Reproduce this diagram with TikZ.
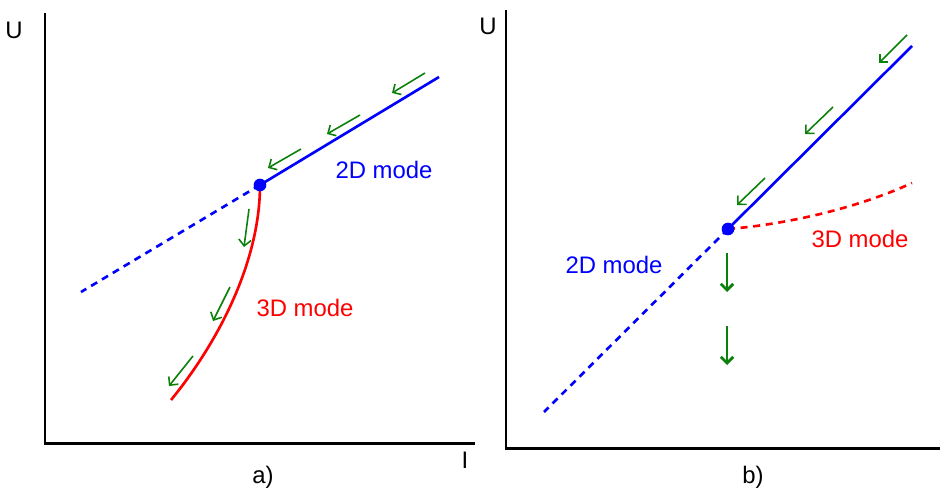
\documentclass[tikz,border=0pt]{standalone}
\usepackage{fontspec}
\setmainfont{Liberation Sans}
\usetikzlibrary{arrows.meta}
\definecolor{flowgreen}{HTML}{0B800B}

\begin{document}
\begin{tikzpicture}[
  x=0.02cm, y=-0.02cm,
  axis/.style={line width=1.7pt},
  mode2d/.style={draw=blue, line width=1.5pt},
  mode3d/.style={draw=red, line width=1.5pt},
  hidden/.style={dash pattern=on 4pt off 3.2pt},
  flow/.style={draw=flowgreen, line width=0.9pt, -{Straight Barb[length=3.5pt,width=7pt]}},
  bigflow/.style={flow, line width=1.6pt},
  lbl/.style={font=\fontsize{13.6}{16}\selectfont, inner sep=0pt},
  spot/.style={circle, fill=blue, inner sep=0pt, minimum size=7.2pt}
]
  \useasboundingbox (0,0) rectangle (940,487);

  % panel a
  \coordinate (ua) at (45,13);
  \coordinate (oa) at (45,443);
  \coordinate (ia) at (475,443);
  \draw[axis] (ua) -- (oa) -- (ia);
  \node[lbl] (lua) at (14,30) {U};
  \node[lbl] (lia) at (465,460) {I};
  \node[lbl] (capa) at (263,477) {a)};

  \coordinate (ka) at (260,185);
  \coordinate (hia) at (439,77);
  \coordinate (loa) at (81,292);
  \coordinate (enda) at (171,400);
  \draw[mode2d] (ka) -- (hia);
  \draw[mode2d, hidden] (ka) -- (loa);
  \draw[mode3d] (ka) .. controls (260,260) and (220,340) .. (enda);
  \node[spot] (dota) at (ka) {};
  \node[lbl, text=blue] (twoa) at (384,170) {2D mode};
  \node[lbl, text=red] (threea) at (305,308) {3D mode};

  \coordinate (fa1) at (425,73);  \coordinate (ta1) at (392,93);
  \coordinate (fa2) at (360,115); \coordinate (ta2) at (327,134);
  \coordinate (fa3) at (301,149); \coordinate (ta3) at (268,168);
  \coordinate (fa4) at (249,209); \coordinate (ta4) at (244,247);
  \coordinate (fa5) at (230,287); \coordinate (ta5) at (213,321);
  \coordinate (fa6) at (193,356); \coordinate (ta6) at (169,386);
  \foreach \i in {1,...,6}
    \draw[flow] (fa\i) -- (ta\i);

  % panel b
  \coordinate (ub) at (506,10);
  \coordinate (ob) at (506,448);
  \coordinate (ib) at (940,448);
  \draw[axis] (ub) -- (ob) -- (ib);
  \node[lbl] (lub) at (488,26) {U};
  \node[lbl] (capb) at (753,477) {b)};

  \coordinate (kb) at (728,229);
  \coordinate (hib) at (912,46);
  \coordinate (lob) at (544,412);
  \coordinate (endb) at (912,183);
  \draw[mode2d] (kb) -- (hib);
  \draw[mode2d, hidden] (kb) -- (lob);
  \draw[mode3d, hidden] (kb) .. controls (790,224) and (860,207) .. (endb);
  \node[spot] (dotb) at (kb) {};
  \node[lbl, text=blue] (twob) at (614,265) {2D mode};
  \node[lbl, text=red] (threeb) at (860,239) {3D mode};

  \coordinate (fb1) at (907,35);  \coordinate (tb1) at (879,63);
  \coordinate (fb2) at (833,107); \coordinate (tb2) at (805,134);
  \coordinate (fb3) at (765,178); \coordinate (tb3) at (737,205);
  \foreach \i in {1,2,3}
    \draw[flow] (fb\i) -- (tb\i);
  \coordinate (fb4) at (727,253); \coordinate (tb4) at (727,292);
  \coordinate (fb5) at (727,326); \coordinate (tb5) at (727,365);
  \draw[bigflow] (fb4) -- (tb4);
  \draw[bigflow] (fb5) -- (tb5);
\end{tikzpicture}
\end{document}
